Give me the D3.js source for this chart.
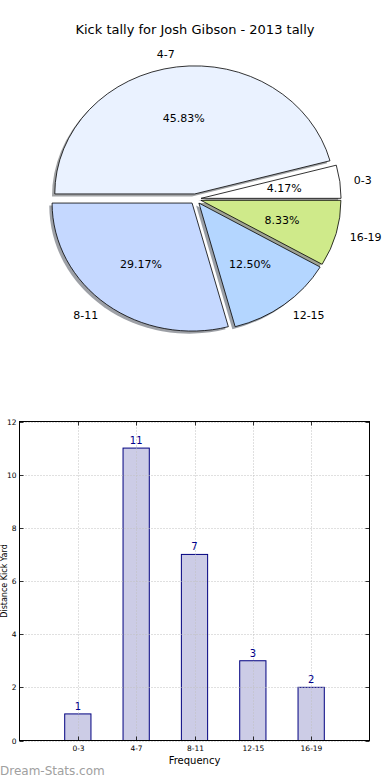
<!DOCTYPE html>
<html><head><meta charset="utf-8">
<script src="https://cdn.jsdelivr.net/npm/d3@7/dist/d3.min.js"></script>
<style>body{margin:0;background:#fff}svg{display:block;font-family:"DejaVu Sans",sans-serif}</style>
</head><body>
<svg id="c" width="390" height="780"></svg>
<script>
const title = "Kick tally for Josh Gibson - 2013 tally";
const categories = ["0-3","4-7","8-11","12-15","16-19"];
const counts = [1,11,7,3,2];
const percentLabels = ["4.17%","45.83%","29.17%","12.50%","8.33%"];
const sliceColors = ["#ffffff","#eaf2ff","#c5d8ff","#b4d6ff","#cfea8a"];
const yTicks = [0,2,4,6,8,10,12];
const xLabel = "Frequency";
const yLabel = "Distance Kick Yard";
const watermark = "Dream-Stats.com";

const svg = d3.select("#c");
svg.append("text").attr("x",195).attr("y",34).attr("text-anchor","middle")
  .attr("font-size",13).attr("fill","#000").text(title);

// ---- Pie ----
const cx = 195.5, cy = 199, rx = 140, ry = 128, explode = 0.04;
const total = d3.sum(counts);
const angScale = d3.scaleLinear().domain([0,total]).range([0, 2*Math.PI]);
let acc = 0;
const slices = counts.map((v,i)=>{const a0=angScale(acc); acc+=v; const a1=angScale(acc); return {i,v,a0,a1,am:(a0+a1)/2};});
const toD3 = a => Math.PI/2 - a;
const arc = d3.arc().innerRadius(0).outerRadius(1);
const pie = svg.append("g");
function darker(c){const r=d3.rgb(c);return d3.rgb(r.r*0.3,r.g*0.3,r.b*0.3).toString();}
slices.forEach(s=>{
  const ox = cx + explode*rx*Math.cos(s.am) - 0.02*rx;
  const oy = cy - explode*ry*Math.sin(s.am) + 0.02*ry;
  pie.append("path")
    .attr("transform",`translate(${ox},${oy}) scale(${rx},${ry})`)
    .attr("d",arc({startAngle:toD3(s.a1),endAngle:toD3(s.a0)}))
    .attr("fill",darker(sliceColors[s.i])).attr("fill-opacity",0.5);
});
slices.forEach(s=>{
  const ox = cx + explode*rx*Math.cos(s.am);
  const oy = cy - explode*ry*Math.sin(s.am);
  pie.append("path")
    .attr("transform",`translate(${ox},${oy}) scale(${rx},${ry})`)
    .attr("d",arc({startAngle:toD3(s.a1),endAngle:toD3(s.a0)}))
    .attr("fill",sliceColors[s.i]).attr("stroke","#000").attr("stroke-width",0.8)
    .attr("vector-effect","non-scaling-stroke");
  const c = Math.cos(s.am), sn = Math.sin(s.am);
  pie.append("text").attr("x",ox+0.6*rx*c).attr("y",oy-0.6*ry*sn).attr("dy","0.35em")
    .attr("text-anchor","middle").attr("font-size",11).text(percentLabels[s.i]);
  pie.append("text").attr("x",ox+1.1*rx*c).attr("y",oy-1.1*ry*sn).attr("dy","0.35em")
    .attr("text-anchor",c>=0?"start":"end").attr("font-size",11).text(categories[s.i]);
});

// ---- Bar chart ----
const L=19.5, R=369.5, T=421.5, B=740.5;
const x = d3.scaleLinear().domain([-1,5]).range([L,R]);
const y = d3.scaleLinear().domain([0,12]).range([B,T]);
const bar = svg.append("g");
const bw = (x(1)-x(0))*0.45;
bar.selectAll("rect.b").data(counts).join("rect")
  .attr("x",(d,i)=>x(i)-bw/2).attr("y",d=>y(d)).attr("width",bw).attr("height",d=>y(0)-y(d))
  .attr("fill","#ccccE6").attr("stroke","#000080").attr("stroke-width",1);
const grid = bar.append("g").attr("stroke","#c0c0c0").attr("stroke-dasharray","1,2").attr("stroke-width",1);
yTicks.forEach(t=>grid.append("line").attr("x1",L).attr("x2",R).attr("y1",Math.round(y(t))+0.5).attr("y2",Math.round(y(t))+0.5));
categories.forEach((c,i)=>grid.append("line").attr("x1",Math.round(x(i))+0.5).attr("x2",Math.round(x(i))+0.5).attr("y1",T).attr("y2",B));
bar.selectAll("text.v").data(counts).join("text")
  .attr("x",(d,i)=>x(i)).attr("y",d=>y(d)-4).attr("text-anchor","middle")
  .attr("font-size",10).attr("fill","#00008b").text(d=>d);
bar.append("rect").attr("x",L).attr("y",T).attr("width",R-L).attr("height",B-T)
  .attr("fill","none").attr("stroke","#000").attr("stroke-width",1);
const tk = bar.append("g").attr("stroke","#000").attr("stroke-width",0.8);
yTicks.forEach(t=>{const yy=Math.round(y(t))+0.5;
  tk.append("line").attr("x1",L).attr("x2",L+4).attr("y1",yy).attr("y2",yy);
  tk.append("line").attr("x1",R).attr("x2",R-4).attr("y1",yy).attr("y2",yy);
  bar.append("text").attr("x",L-3).attr("y",yy).attr("dy","0.35em").attr("text-anchor","end")
    .attr("font-size",7.5).text(t);
});
categories.forEach((c,i)=>{const xx=Math.round(x(i))+0.5;
  tk.append("line").attr("x1",xx).attr("x2",xx).attr("y1",B).attr("y2",B-4);
  tk.append("line").attr("x1",xx).attr("x2",xx).attr("y1",T).attr("y2",T+4);
  bar.append("text").attr("x",xx).attr("y",B+10).attr("text-anchor","middle")
    .attr("font-size",7.5).text(c);
});
bar.append("text").attr("x",(L+R)/2).attr("y",764).attr("text-anchor","middle")
  .attr("font-size",10).text(xLabel);
bar.append("text").attr("transform",`translate(7,${(T+B)/2}) rotate(-90)`).attr("text-anchor","middle")
  .attr("font-size",8).text(yLabel);
svg.append("text").attr("x",0).attr("y",775).attr("font-size",12)
  .attr("fill","#a0a0a0").text(watermark);
</script>
</body></html>
